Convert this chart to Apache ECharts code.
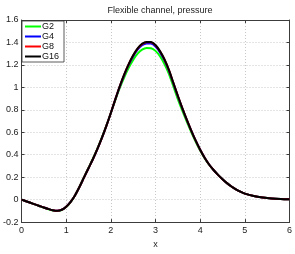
<!DOCTYPE html>
<html>
<head>
<meta charset="utf-8">
<script src="https://cdn.jsdelivr.net/npm/echarts@6/dist/echarts.min.js"></script>
<style>
html,body{margin:0;padding:0;background:#fff;}
#c{width:295px;height:254px;}
</style>
</head>
<body>
<div id="c"></div>
<script>
var titleText = 'Flexible channel, pressure';
var xLabel = 'x';
var seriesNames = ['G2', 'G4', 'G8', 'G16'];
var seriesColors = ['#00ff00', '#0000ff', '#ff0000', '#000000'];

var xs = [0,0.1,0.2,0.3,0.4,0.5,0.6,0.7,0.8,0.9,1.0,1.1,1.2,1.3,1.4,1.5,1.6,1.7,1.8,1.9,2.0,2.1,2.2,2.3,2.4,2.5,2.6,2.7,2.8,2.9,3.0,3.1,3.2,3.3,3.4,3.5,3.6,3.7,3.8,3.9,4.0,4.1,4.2,4.3,4.4,4.5,4.6,4.7,4.8,4.9,5.0,5.2,5.4,5.6,5.8,6.0];

var g16 = [0,-0.014,-0.028,-0.042,-0.056,-0.07,-0.083,-0.094,-0.099,-0.09,-0.063,-0.02,0.04,0.115,0.198,0.28,0.362,0.452,0.55,0.657,0.772,0.893,1.01,1.115,1.207,1.285,1.347,1.388,1.405,1.404,1.377,1.323,1.25,1.155,1.04,0.925,0.815,0.712,0.615,0.525,0.444,0.373,0.313,0.264,0.221,0.182,0.147,0.117,0.092,0.071,0.054,0.033,0.02,0.011,0.006,0.003];

var g8 = [0,-0.014,-0.028,-0.042,-0.056,-0.07,-0.083,-0.094,-0.099,-0.09,-0.063,-0.02,0.04,0.115,0.198,0.28,0.362,0.452,0.55,0.657,0.772,0.893,1.01,1.114,1.206,1.283,1.345,1.385,1.402,1.401,1.374,1.321,1.248,1.153,1.039,0.924,0.815,0.712,0.615,0.525,0.444,0.373,0.313,0.264,0.221,0.182,0.147,0.117,0.092,0.071,0.054,0.033,0.02,0.011,0.006,0.003];

var g4 = [0,-0.014,-0.028,-0.042,-0.056,-0.07,-0.083,-0.094,-0.099,-0.09,-0.063,-0.02,0.04,0.115,0.198,0.28,0.362,0.452,0.55,0.657,0.772,0.892,1.007,1.11,1.2,1.276,1.336,1.375,1.391,1.39,1.364,1.312,1.24,1.147,1.035,0.921,0.813,0.711,0.615,0.525,0.444,0.373,0.313,0.264,0.221,0.182,0.147,0.117,0.092,0.071,0.054,0.033,0.02,0.011,0.006,0.003];

var g2 = [0,-0.014,-0.028,-0.042,-0.057,-0.072,-0.086,-0.097,-0.102,-0.093,-0.066,-0.022,0.04,0.117,0.201,0.284,0.367,0.457,0.555,0.66,0.772,0.887,0.995,1.09,1.174,1.245,1.3,1.336,1.351,1.349,1.325,1.277,1.208,1.12,1.008,0.896,0.792,0.695,0.602,0.516,0.438,0.37,0.311,0.263,0.221,0.182,0.147,0.117,0.092,0.071,0.054,0.033,0.02,0.011,0.006,0.003];

var allY = [g2, g4, g8, g16];

function pairs(ys){ return xs.map(function(x,i){ return [x, ys[i]]; }); }

var font = 'Liberation Sans, Arial, sans-serif';
var chart = echarts.init(document.getElementById('c'), null, {renderer:'canvas'});

var axisLineStyle = {color:'#3c3c3c', width:1};
var gridLine = {show:true, lineStyle:{color:'#c8c8c8', type:[1,2], width:1}};

chart.setOption({
  animation:false,
  backgroundColor:'#fff',
  title:{text:titleText, left:155, textAlign:'center', top:1,
    textStyle:{fontFamily:font, fontSize:9, fontWeight:'normal', color:'#222'}},
  grid:{left:19.5, right:5, top:20, bottom:23, containLabel:false},
  legend:{
    data:seriesNames, orient:'vertical', left:22, top:21,
    icon:'rect', itemWidth:16, itemHeight:2, itemGap:1,
    backgroundColor:'#fff', borderColor:'#333', borderWidth:0.8,
    padding:[1,5,1,3],
    textStyle:{fontFamily:font, fontSize:9, color:'#111', padding:[0,0,0,-4], lineHeight:9}
  },
  xAxis:[
    {type:'value', min:0, max:6, interval:1, position:'bottom',
     name:xLabel, nameLocation:'middle', nameGap:13,
     nameTextStyle:{fontFamily:font, fontSize:9, color:'#222'},
     axisLine:{show:true, onZero:false, lineStyle:axisLineStyle},
     axisTick:{show:true, inside:true, length:3, lineStyle:axisLineStyle},
     axisLabel:{fontFamily:font, fontSize:9, color:'#222', margin:4},
     splitLine:gridLine},
    {type:'value', min:0, max:6, interval:1, position:'top',
     axisLine:{show:true, onZero:false, lineStyle:axisLineStyle},
     axisTick:{show:true, inside:true, length:3, lineStyle:axisLineStyle},
     axisLabel:{show:false}, splitLine:{show:false}}
  ],
  yAxis:[
    {type:'value', min:-0.2, max:1.6, interval:0.2, position:'left',
     axisLine:{show:true, onZero:false, lineStyle:axisLineStyle},
     axisTick:{show:true, inside:true, length:3, lineStyle:axisLineStyle},
     axisLabel:{fontFamily:font, fontSize:9, color:'#222', margin:3},
     splitLine:gridLine},
    {type:'value', min:-0.2, max:1.6, interval:0.2, position:'right',
     axisLine:{show:true, onZero:false, lineStyle:axisLineStyle},
     axisTick:{show:true, inside:true, length:3, lineStyle:axisLineStyle},
     axisLabel:{show:false}, splitLine:{show:false}}
  ],
  series: seriesNames.map(function(n,i){
    return {name:n, type:'line', data:pairs(allY[i]), symbol:'none', smooth:0.3,
      xAxisIndex:0, yAxisIndex:0,
      itemStyle:{color:seriesColors[i]},
      lineStyle:{color:seriesColors[i], width:2}, z:2+i};
  })
});
</script>
</body>
</html>
